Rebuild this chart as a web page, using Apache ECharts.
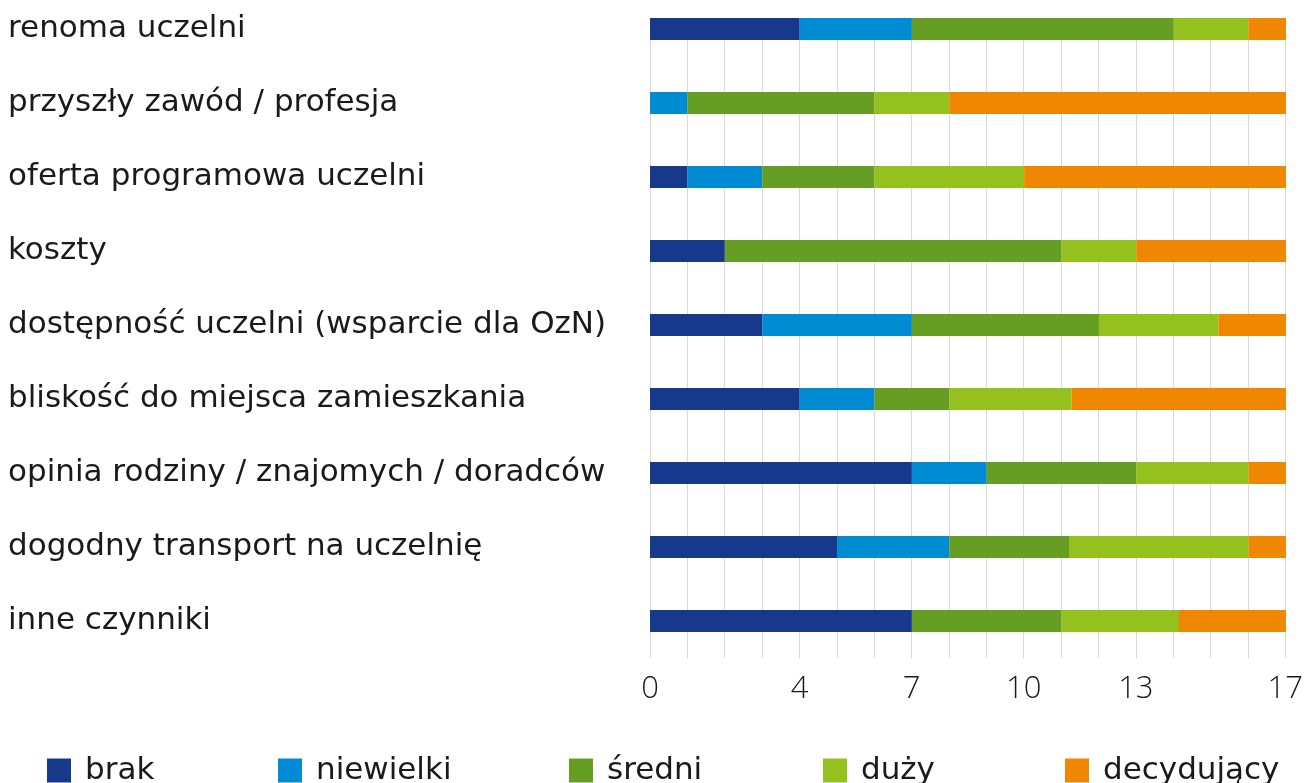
<!DOCTYPE html>
<html>
<head>
<meta charset="utf-8">
<script src="https://cdn.jsdelivr.net/npm/echarts@6/dist/echarts.min.js"></script>
<style>
html,body{margin:0;padding:0;background:#fff;}
#chart{width:1306px;height:783px;}
</style>
</head>
<body>
<div id="chart"></div>
<script>
const categories = [
  'renoma uczelni',
  'przyszły zawód / profesja',
  'oferta programowa uczelni',
  'koszty',
  'dostępność uczelni (wsparcie dla OzN)',
  'bliskość do miejsca zamieszkania',
  'opinia rodziny / znajomych / doradców',
  'dogodny transport na uczelnię',
  'inne czynniki'
];
const seriesNames = ['brak', 'niewielki', 'średni', 'duży', 'decydujący'];
const brak       = [4, 0, 1, 2, 3, 4, 7, 5, 7];
const niewielki  = [3, 1, 2, 0, 4, 2, 2, 3, 0];
const sredni     = [7, 5, 3, 9, 5, 2, 4, 3.2, 4];
const duzy       = [2, 2, 4, 2, 3.2, 3.27, 3, 4.8, 3.14];
const decydujacy = [1, 9, 7, 4, 1.8, 5.73, 1, 1, 2.86];
const tickLabels = [0, 4, 7, 10, 13, 17];

const colors = ['#16398c', '#008bd2', '#669e24', '#95c11f', '#f08700'];
const values = [brak, niewielki, sredni, duzy, decydujacy];
const legendLeft = [47, 278, 569, 823, 1065];
const FONT = '"DejaVu Sans", sans-serif';
const LIGHT = '"Open Sans", sans-serif';

const chart = echarts.init(document.getElementById('chart'), null, {renderer: 'canvas'});
chart.setOption({
  animation: false,
  backgroundColor: '#ffffff',
  grid: [
    {left: 650, right: 20, top: 29, bottom: 162, containLabel: false},
    {left: 650, right: 20, top: 18, bottom: 125, containLabel: false}
  ],
  legend: seriesNames.map((n, i) => ({
    data: [n],
    left: legendLeft[i],
    top: 755,
    itemWidth: 24,
    itemHeight: 24,
    icon: 'rect',
    selectedMode: false,
    padding: 0,
    textStyle: {fontFamily: FONT, fontSize: 31, fontWeight: 'normal', color: '#1a1a1a', padding: [0, 0, 0, 9]}
  })),
  xAxis: [
    {gridIndex: 0, type: 'value', min: 0, max: 17, interval: 1,
     axisLine: {show: false}, axisTick: {show: false}, axisLabel: {show: false}, splitLine: {show: false}},
    {gridIndex: 1, type: 'value', min: 0, max: 17, interval: 1,
     axisLine: {show: false}, axisTick: {show: false},
     splitLine: {show: true, lineStyle: {color: '#d9d9d9', width: 1}},
     axisLabel: {show: true, margin: 16, fontFamily: LIGHT, fontSize: 31, fontWeight: 300, color: '#1a1a1a',
       formatter: v => tickLabels.includes(v) ? String(v) : ''}}
  ],
  yAxis: [
    {gridIndex: 0, type: 'category', data: categories, inverse: true, boundaryGap: false,
     axisLine: {show: false}, axisTick: {show: false}, splitLine: {show: false},
     axisLabel: {align: 'left', margin: 642, fontFamily: FONT, fontSize: 31, color: '#1a1a1a'}},
    {gridIndex: 1, type: 'category', data: categories, inverse: true, show: false}
  ],
  series: seriesNames.map((n, i) => ({
    name: n,
    type: 'bar',
    stack: 'total',
    xAxisIndex: 0,
    yAxisIndex: 0,
    barWidth: 22,
    itemStyle: {color: colors[i]},
    data: values[i],
    z: 3
  }))
});
</script>
</body>
</html>
